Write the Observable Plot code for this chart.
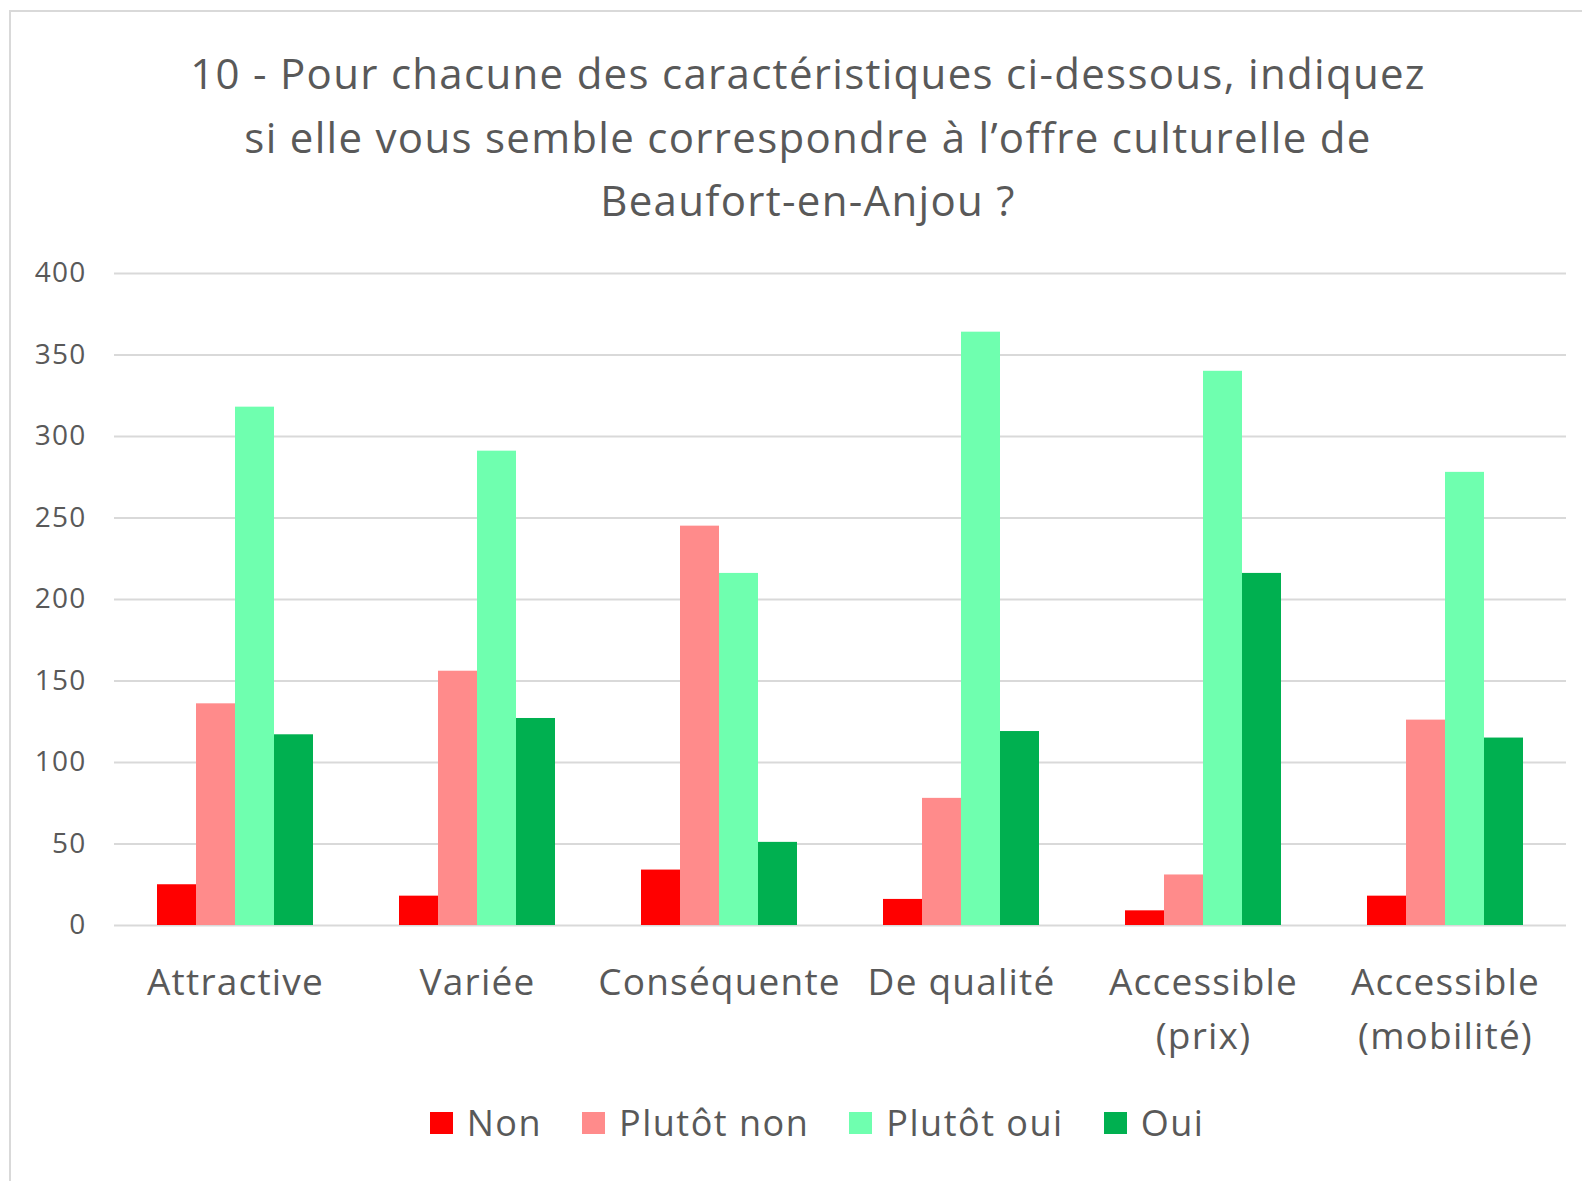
<!DOCTYPE html>
<html>
<head>
<meta charset="utf-8">
<script src="https://cdn.jsdelivr.net/npm/d3@7"></script>
<script src="https://cdn.jsdelivr.net/npm/@observablehq/plot@0.6"></script>
<style>
  html, body { margin: 0; padding: 0; background: #fff; }
  body { width: 1582px; height: 1181px; position: relative; overflow: hidden; font-family: "Open Sans", sans-serif; color: #595959; }
  #frame { position: absolute; left: 9px; top: 10px; width: 1700px; height: 1300px; border: 2px solid #d9d9d9; box-sizing: border-box; }
  #title { position: absolute; left: 0; top: 41px; width: 1616px; text-align: center; font-size: 42px; letter-spacing: 1.3px; line-height: 63.5px; color: #595959; }
  #chart { position: absolute; left: 0; top: 240px; }
  #legend { position: absolute; left: 0; width: 1634px; top: 1098px; display: flex; justify-content: center; align-items: center; font-size: 36px; letter-spacing: 1.5px; color: #595959; }
  .item { display: flex; align-items: center; margin: 0 20px; }
  .sw { width: 23px; height: 22px; margin-right: 14px; }
</style>
</head>
<body>
<div id="frame"></div>
<div id="title">10 - Pour chacune des caractéristiques ci-dessous, indiquez<br>si elle vous semble correspondre à l’offre culturelle de<br>Beaufort-en-Anjou ?</div>
<div id="chart"></div>
<div id="legend"></div>
<script>
const categories = ["Attractive", "Variée", "Conséquente", "De qualité", "Accessible\n(prix)", "Accessible\n(mobilité)"];
const series = ["Non", "Plutôt non", "Plutôt oui", "Oui"];
const non = [25, 18, 34, 16, 9, 18];
const plutotNon = [136, 156, 245, 78, 31, 126];
const plutotOui = [318, 291, 216, 364, 340, 278];
const oui = [117, 127, 51, 119, 216, 115];
const colors = ["#FF0000", "#FF8B8B", "#6FFFAF", "#00B050"];
const yTicks = [0, 50, 100, 150, 200, 250, 300, 350, 400];

const seriesValues = [non, plutotNon, plutotOui, oui];
const table = [];
categories.forEach((c, i) => {
  series.forEach((s, j) => {
    table.push({cat: c, series: s, value: seriesValues[j][i]});
  });
});

const chart = Plot.plot({
  width: 1582,
  height: 840,
  marginLeft: 114,
  marginRight: 16,
  marginTop: 33,
  marginBottom: 155,
  fx: {domain: categories, padding: 0, axis: null},
  x: {domain: series, paddingInner: 0, paddingOuter: 1.077, axis: null},
  y: {domain: [0, 400], ticks: yTicks, tickSize: 0, tickPadding: 28, label: null, tickFormat: d => d},
  color: {domain: series, range: colors},
  style: {fontFamily: "Open Sans", fontSize: "28px", letterSpacing: "1.2px", color: "#595959", background: "transparent"},
  marks: [
    Plot.ruleY(yTicks, {stroke: "#d9d9d9", strokeWidth: 2, strokeOpacity: 1}),
    Plot.barY(table, {fx: "cat", x: "series", y: "value", fill: "series", insetLeft: 0, insetRight: 0}),
    Plot.text(categories, {fx: d => d, text: d => d, frameAnchor: "bottom", lineAnchor: "top", dy: 32, fontSize: 37, fill: "#595959", lineHeight: 1.44})
  ]
});
document.getElementById("chart").appendChild(chart);

const legend = document.getElementById("legend");
series.forEach((s, j) => {
  const item = document.createElement("div");
  item.className = "item";
  const sw = document.createElement("div");
  sw.className = "sw";
  sw.style.background = colors[j];
  const t = document.createElement("span");
  t.textContent = s;
  item.appendChild(sw);
  item.appendChild(t);
  legend.appendChild(item);
});
</script>
</body>
</html>
